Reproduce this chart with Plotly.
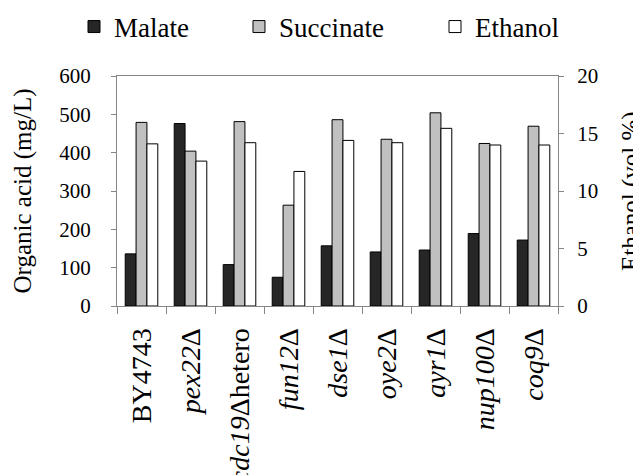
import plotly.graph_objects as go

# Strains and their fermentation products
strains = ["BY4743", "pex22Δ", "cdc19Δhetero", "fun12Δ", "dse1Δ",
           "oye2Δ", "ayr1Δ", "nup100Δ", "coq9Δ"]
strain_labels = ["BY4743", "<i>pex22</i>Δ", "<i>cdc19</i>Δhetero", "<i>fun12</i>Δ",
                 "<i>dse1</i>Δ", "<i>oye2</i>Δ", "<i>ayr1</i>Δ", "<i>nup100</i>Δ",
                 "<i>coq9</i>Δ"]
malate = [136, 476, 108, 75, 157, 141, 146, 189, 172]          # mg/L
succinate = [479, 404, 481, 263, 486, 435, 504, 424, 469]      # mg/L
ethanol = [14.1, 12.6, 14.2, 11.7, 14.4, 14.2, 15.45, 14.0, 14.0]  # vol %

acid_ticks = [0, 100, 200, 300, 400, 500, 600]
ethanol_ticks = [0, 5, 10, 15, 20]

FONT = "Liberation Serif"
AXIS_GRAY = "#868686"

fig = go.Figure()
fig.add_trace(go.Bar(
    x=strains, y=malate, name="Malate", offsetgroup="a", yaxis="y", legend="legend",
    marker=dict(color="#262626", line=dict(color="#000000", width=1)),
))
fig.add_trace(go.Bar(
    x=strains, y=succinate, name="Succinate", offsetgroup="b", yaxis="y", legend="legend2",
    marker=dict(color="#c0c0c0", line=dict(color="#000000", width=1)),
))
fig.add_trace(go.Bar(
    x=strains, y=ethanol, name="Ethanol", offsetgroup="c", yaxis="y2", legend="legend3",
    marker=dict(color="#ffffff", line=dict(color="#000000", width=1)),
))


def legend_box(x):
    return dict(
        orientation="h", x=x, xanchor="left", y=1.213, yanchor="middle",
        font=dict(size=27, family=FONT, color="#000000"),
        bgcolor="rgba(0,0,0,0)",
    )


fig.update_layout(
    width=633, height=475,
    margin=dict(l=117, r=75, t=76, b=169, autoexpand=False),
    paper_bgcolor="white", plot_bgcolor="white",
    font=dict(family=FONT, color="#000000"),
    barmode="group", bargap=0.335, bargroupgap=0,
    showlegend=True,
    legend=legend_box(-0.0975),
    legend2=legend_box(0.2766),
    legend3=legend_box(0.7211),
    xaxis=dict(
        tickvals=strains, ticktext=strain_labels, tickangle=-90,
        tickfont=dict(size=28, family=FONT), tickson="boundaries",
        ticks="outside", ticklen=7, tickcolor=AXIS_GRAY,
        showline=True, linecolor=AXIS_GRAY, linewidth=1.3, mirror=True,
        showgrid=False, ticklabelstandoff=10, automargin=False,
    ),
    yaxis=dict(
        range=[0, 600], tickvals=acid_ticks, ticks="outside", ticklen=5,
        tickcolor=AXIS_GRAY, showline=True, linecolor=AXIS_GRAY, linewidth=1.3,
        showgrid=False, zeroline=False, tickfont=dict(size=21, family=FONT),
        ticklabelstandoff=16, automargin=False,
        title=dict(text="Organic acid (mg/L)", font=dict(size=25, family=FONT), standoff=20),
    ),
    yaxis2=dict(
        range=[0, 20], tickvals=ethanol_ticks, ticks="outside", ticklen=5,
        tickcolor=AXIS_GRAY, showline=True, linecolor=AXIS_GRAY, linewidth=1.3,
        overlaying="y", side="right", showgrid=False, zeroline=False,
        tickfont=dict(size=21, family=FONT), ticklabelstandoff=9, automargin=False,
    ),
)

# Right-hand axis title, set past the tick labels at the page edge
fig.add_annotation(
    text="Ethanol (vol %)", textangle=-90, showarrow=False,
    xref="paper", yref="paper", x=1.1293, xanchor="left",
    y=0.5, yanchor="middle",
    font=dict(size=25, family=FONT, color="#000000"),
)

fig.write_html("out.html")
